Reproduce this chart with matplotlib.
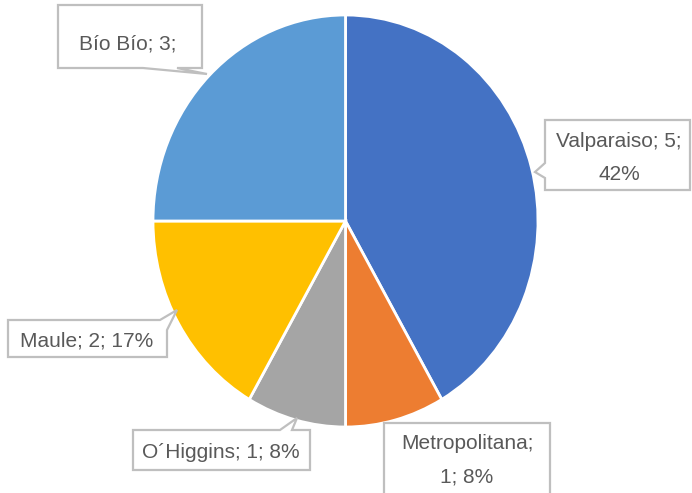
import matplotlib
matplotlib.use("Agg")
import matplotlib.pyplot as plt
from matplotlib.patches import Polygon

# data
regions = ["Valparaiso", "Metropolitana", "O´Higgins", "Maule", "Bío Bío"]
counts = [5, 1, 1, 2, 3]
colors = ["#4472C4", "#ED7D31", "#A5A5A5", "#FFC000", "#5B9BD5"]

# label text as shown in the chart (Bío Bío's percentage is cut off)
total = sum(counts)
pcts = [round(100 * c / total) for c in counts]
labels = [
    f"{regions[0]}; {counts[0]};\n{pcts[0]}%",
    f"{regions[1]};\n{counts[1]}; {pcts[1]}%",
    f"{regions[2]}; {counts[2]}; {pcts[2]}%",
    f"{regions[3]}; {counts[3]}; {pcts[3]}%",
    f"{regions[4]}; {counts[4]};",
]

W, H = 692, 493
fig = plt.figure(figsize=(W / 100, H / 100), dpi=100)

# pie is slightly taller than wide in the reference
left, right, top, bottom = 153, 538, 15, 427
ax = fig.add_axes([left / W, 1 - bottom / H, (right - left) / W, (bottom - top) / H])
ax.pie(counts, colors=colors, startangle=90, counterclock=False,
       wedgeprops=dict(edgecolor="white", linewidth=2))
ax.set_aspect("auto")
ax.set_xlim(-1, 1)
ax.set_ylim(-1, 1)
ax.axis("off")

# overlay in pixel coords for the callout boxes
ov = fig.add_axes([0, 0, 1, 1])
ov.set_xlim(0, W)
ov.set_ylim(H, 0)
ov.axis("off")

callouts = [
    # outline polygon, text position
    ([(545, 120), (690, 120), (690, 190), (545, 190), (545, 178), (535, 172), (545, 163)], (619, 158)),
    ([(384, 423), (550, 423), (550, 500), (384, 500)], (467, 460)),
    ([(133, 430), (280, 430), (297, 418), (292, 430), (310, 430), (310, 470), (133, 470)], (221, 452)),
    ([(8, 320), (160, 320), (177, 310), (167, 330), (167, 357), (8, 357)], (87, 341)),
    ([(58, 5), (202, 5), (202, 68), (177, 68), (207, 74), (143, 68), (58, 68)], (128, 44)),
]

for (pts, (tx, ty)), lab in zip(callouts, labels):
    ov.add_patch(Polygon(pts, closed=True, facecolor="white", edgecolor="#BFBFBF", linewidth=1.6))
    ov.text(tx, ty, lab, ha="center", va="center", fontsize=15, color="#595959",
            family="Liberation Sans", linespacing=1.95)

fig.savefig("out.png", dpi=100)
